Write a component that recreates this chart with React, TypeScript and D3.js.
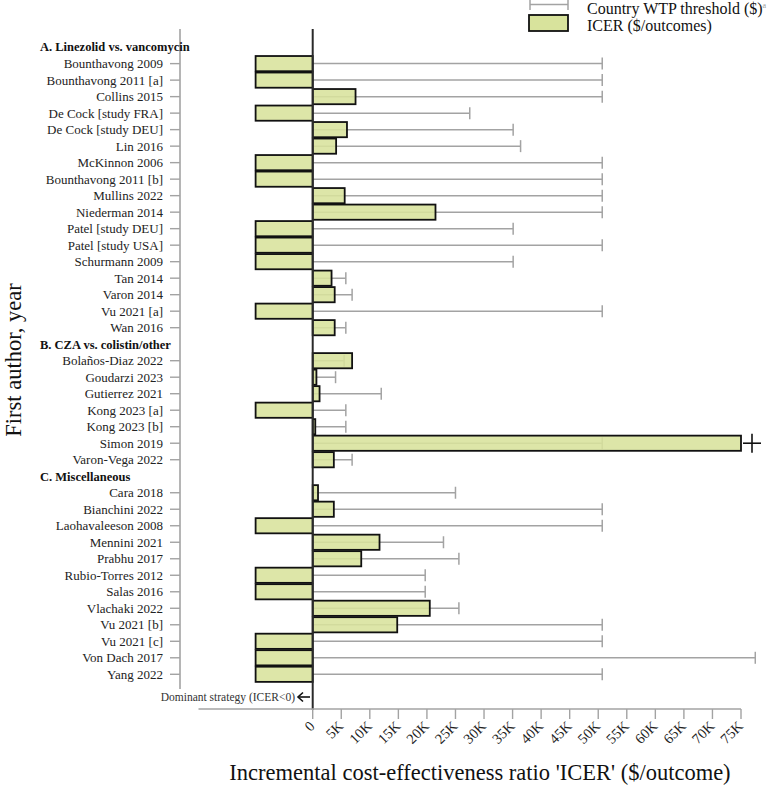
import React from "react";
import * as d3 from "d3";

const DOMINANT = -10000;

const headers = ["A. Linezolid vs. vancomycin", "B. CZA vs. colistin/other", "C. Miscellaneous"];

const studiesA = ["Bounthavong 2009", "Bounthavong 2011 [a]", "Collins 2015", "De Cock [study FRA]", "De Cock [study DEU]", "Lin 2016", "McKinnon 2006", "Bounthavong 2011 [b]", "Mullins 2022", "Niederman 2014", "Patel [study DEU]", "Patel [study USA]", "Schurmann 2009", "Tan 2014", "Varon 2014", "Vu 2021 [a]", "Wan 2016"];
const icerA = [DOMINANT, DOMINANT, 7500, DOMINANT, 6000, 4100, DOMINANT, DOMINANT, 5600, 21500, DOMINANT, DOMINANT, DOMINANT, 3300, 3850, DOMINANT, 3850];
const wtpA = [50700, 50700, 50700, 27500, 35100, 36400, 50700, 50700, 50700, 50700, 35100, 50700, 35100, 5800, 6900, 50700, 5800];

const studiesB = ["Bolaños-Diaz 2022", "Goudarzi 2023", "Gutierrez 2021", "Kong 2023 [a]", "Kong 2023 [b]", "Simon 2019", "Varon-Vega 2022"];
const icerB = [6900, 650, 1200, DOMINANT, 450, 75000, 3700];
const wtpB = [5500, 4000, 12000, 5800, 5800, 50700, 6900];

const studiesC = ["Cara 2018", "Bianchini 2022", "Laohavaleeson 2008", "Mennini 2021", "Prabhu 2017", "Rubio-Torres 2012", "Salas 2016", "Vlachaki 2022", "Vu 2021 [b]", "Vu 2021 [c]", "Von Dach 2017", "Yang 2022"];
const icerC = [930, 3700, DOMINANT, 11700, 8500, DOMINANT, DOMINANT, 20500, 14800, DOMINANT, DOMINANT, DOMINANT];
const wtpC = [25000, 50700, 50700, 22900, 25600, 19700, 19700, 25600, 50700, 50700, 77500, 50700];

const xTicks = [0, 5000, 10000, 15000, 20000, 25000, 30000, 35000, 40000, 45000, 50000, 55000, 60000, 65000, 70000, 75000];
const truncated = ["Simon 2019"];

type Row = { id: string; label: string; header: boolean; icer?: number; wtp?: number };

function buildRows(): Row[] {
  const rows: Row[] = [];
  const groups = [
    [studiesA, icerA, wtpA],
    [studiesB, icerB, wtpB],
    [studiesC, icerC, wtpC],
  ] as [string[], number[], number[]][];
  groups.forEach(([names, icers, wtps], g) => {
    rows.push({ id: "h" + g, label: headers[g], header: true });
    names.forEach((n, i) => rows.push({ id: g + "-" + i, label: n, header: false, icer: icers[i], wtp: wtps[i] }));
  });
  return rows;
}

const FONT = "'Liberation Serif', 'Times New Roman', serif";
const BAR_FILL = "#d8e39c";
const GRAY = "#a3a3a3";

export default function App() {
  const rows = buildRows();
  const x = d3.scaleLinear().domain([-20000, 75000]).range([198.5, 741]);
  const y = d3.scaleBand<string>().domain(rows.map((r) => r.id)).range([38.2, 683.2]).padding(0.08);
  const bw = y.bandwidth();
  const cy = (id: string) => (y(id) as number) + bw / 2;
  const x0 = x(0);
  const capH = 6;
  const fmt = (v: number) => (v === 0 ? "0" : v / 1000 + "K");

  return (
    <svg width={782} height={785} style={{ position: "absolute", left: 0, top: 0, background: "#fff" }} fontFamily={FONT}>
      {/* left axis */}
      <line x1={180} x2={180} y1={29} y2={689} stroke={GRAY} strokeWidth={1.6} />
      {rows.filter((r) => !r.header).map((r) => (
        <line key={"t" + r.id} x1={170} x2={180} y1={cy(r.id)} y2={cy(r.id)} stroke={GRAY} strokeWidth={1.4} />
      ))}
      {rows.map((r) =>
        r.header ? (
          <text key={"l" + r.id} x={40} y={cy(r.id)} dy="0.35em" fontSize={12.5} fontWeight="bold" fill="#111">
            {r.label}
          </text>
        ) : (
          <text key={"l" + r.id} x={163} y={cy(r.id)} dy="0.35em" fontSize={13} textAnchor="end" fill="#222">
            {r.label}
          </text>
        )
      )}

      {/* whiskers under bars */}
      {rows.filter((r) => !r.header).map((r) => (
        <g key={"w" + r.id}>
          <line x1={x0} x2={x(r.wtp!)} y1={cy(r.id)} y2={cy(r.id)} stroke={GRAY} strokeWidth={1.5} />
          <line x1={x(r.wtp!)} x2={x(r.wtp!)} y1={cy(r.id) - capH} y2={cy(r.id) + capH} stroke={GRAY} strokeWidth={1.5} />
        </g>
      ))}

      {/* bars */}
      {rows.filter((r) => !r.header).map((r) => {
        const v = r.icer!;
        const xa = Math.min(x(v), x0);
        const xb = Math.max(x(v), x0);
        return (
          <rect key={"b" + r.id} x={xa} y={y(r.id)} width={xb - xa} height={bw} fill={BAR_FILL} fillOpacity={0.88} stroke="#111" strokeWidth={1.8} />
        );
      })}

      {/* truncation markers */}
      {rows.filter((r) => truncated.includes(r.label)).map((r) => {
        const px = x(r.icer!) + 11;
        return (
          <g key={"p" + r.id} stroke="#111" strokeWidth={1.6}>
            <line x1={px - 9} x2={px + 9} y1={cy(r.id)} y2={cy(r.id)} />
            <line x1={px} x2={px} y1={cy(r.id) - 9.5} y2={cy(r.id) + 9.5} />
          </g>
        );
      })}

      {/* zero line */}
      <line x1={x0} x2={x0} y1={29} y2={710} stroke="#2a2a2a" strokeWidth={2} />

      {/* x axis */}
      <line x1={x.range()[0]} x2={x.range()[1]} y1={709} y2={709} stroke={GRAY} strokeWidth={1.6} />
      {xTicks.map((t) => (
        <g key={"xt" + t} transform={`translate(${x(t)},709)`}>
          <line y1={0} y2={10} stroke={GRAY} strokeWidth={1.4} />
          <text transform="translate(3,18) rotate(-45)" textAnchor="end" fontSize={14.5} fill="#222">
            {fmt(t)}
          </text>
        </g>
      ))}

      {/* dominant annotation */}
      <text x={295} y={697} dy="0.35em" textAnchor="end" fontSize={11.5} fill="#333">
        Dominant strategy (ICER&lt;0)
      </text>
      <g stroke="#111" strokeWidth={1.6} fill="none">
        <line x1={298} x2={310} y1={697} y2={697} />
        <polyline points="303,692.5 298,697 303,701.5" />
      </g>

      {/* axis titles */}
      <text x={480} y={780} textAnchor="middle" fontSize={22.5} fill="#111">
        Incremental cost-effectiveness ratio 'ICER' ($/outcome)
      </text>
      <text transform="translate(21,360) rotate(-90)" textAnchor="middle" fontSize={22.5} fill="#111">
        First author, year
      </text>

      {/* legend */}
      <g stroke={GRAY} strokeWidth={1.5}>
        <line x1={530} x2={568} y1={4.5} y2={4.5} />
        <line x1={530} x2={530} y1={-1} y2={10} />
        <line x1={568} x2={568} y1={-1} y2={10} />
      </g>
      <text x={587} y={14} fontSize={16} fill="#111">
        Country WTP threshold ($)
        <tspan fontSize={8} dy={-6} fill="#999">a</tspan>
      </text>
      <rect x={529} y={15} width={39} height={16} fill={BAR_FILL} stroke="#111" strokeWidth={1.8} />
      <text x={587} y={31} fontSize={16} fill="#111">
        ICER ($/outcomes)
      </text>
    </svg>
  );
}
